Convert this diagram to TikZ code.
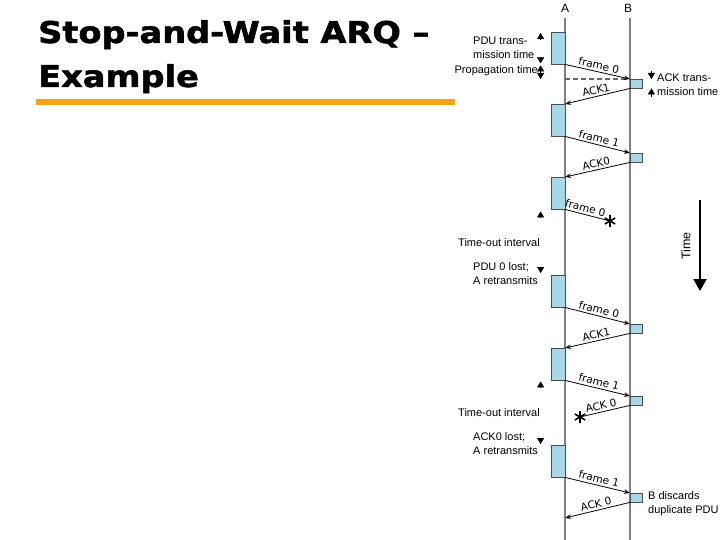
\documentclass[tikz,border=0pt]{standalone}
\usepackage{fontspec}
\setmainfont{Liberation Sans}
\newfontfamily\msgfont{DejaVu Sans}
\newfontfamily\titlefont[FakeBold=1.6]{DejaVu Sans}
\usepackage{graphicx}
\usetikzlibrary{calc, positioning, arrows.meta}
\definecolor{boxblue}{RGB}{166,216,232}
\definecolor{linegray}{RGB}{128,128,128}
\definecolor{barorange}{RGB}{247,162,27}

\begin{document}
\begin{tikzpicture}[x=1pt, y=-1pt,
  abox/.style={draw=black!70, fill=boxblue, minimum width=14pt, minimum height=32pt,
               inner sep=0pt, anchor=north east},
  bbox/.style={draw=black!70, fill=boxblue, minimum width=12pt, minimum height=9pt,
               inner sep=0pt, anchor=north west},
  lifeline/.style={draw=linegray, line width=1.6pt},
  msg/.style={draw, line width=0.8pt, -{Stealth[length=6pt,width=4.5pt]}},
  msglost/.style={draw, line width=0.8pt},
  lbl/.style={font=\msgfont\fontsize{10.5}{12}\selectfont, sloped, above, inner sep=2pt},
  note/.style={font=\fontsize{11}{14}\selectfont, align=left, inner sep=1pt, anchor=west},
  dim/.style={-{Triangle[length=6pt,width=7pt]}},
  titel/.style={font=\titlefont\bfseries\fontsize{30}{44}\selectfont, anchor=base west, inner sep=0pt},
  lost/.pic={\draw[line width=1.6pt] (90:6) -- (270:6) (30:6) -- (210:6) (150:6) -- (330:6);}
]
\useasboundingbox (0,0) rectangle (720,540);

\node[titel] (title1) at (38,43) {\scalebox{1.12}[1]{Stop-and-Wait ARQ –}};
\node[titel] (title2) at (38,87) {\scalebox{1.12}[1]{Example}};
\fill[barorange] (36,99) rectangle (455,105);

\node[font=\fontsize{12}{14}\selectfont, inner sep=1pt] (labA) at (565,8) {A};
\node[font=\fontsize{12}{14}\selectfont, inner sep=1pt] (labB) at (628,8) {B};
\coordinate (endA) at (565,540);
\coordinate (endB) at (630,540);
\draw[lifeline] (labA.south |- 0,18) -- (endA);
\draw[lifeline] (endB |- 0,18) -- (endB);

\node[abox] (a1) at (565,32) {};
\node[abox] (a2) at (565,104) {};
\node[abox] (a3) at (565,177) {};
\node[abox] (a4) at (565,275) {};
\node[abox] (a5) at (565,348) {};
\node[abox] (a6) at (565,445) {};

\node[bbox] (b1) at (630,79) {};
\node[bbox] (b2) at (630,153) {};
\node[bbox] (b3) at (630,324) {};
\node[bbox] (b4) at (630,396) {};
\node[bbox] (b5) at (630,493) {};

\coordinate (lost1) at (610,221);
\coordinate (lost2) at (580,417);
\coordinate (ackend) at (565,518);

\draw[draw=black!60, line width=1.2pt, dash pattern=on 5pt off 3pt] (b1.north west -| a1.east) -- (b1.north west);

\draw[msg] (a1.south east) -- node[lbl] {frame 0} (b1.north west);
\draw[msg] (b1.south west) -- node[lbl] {ACK1} (a2.north east);
\draw[msg] (a2.south east) -- node[lbl] {frame 1} (b2.north west);
\draw[msg] (b2.south west) -- node[lbl] {ACK0} (a3.north east);
\draw[msglost] (a3.south east) -- node[lbl, pos=0.42] {frame 0} (lost1);
\pic at (lost1) {lost};
\draw[msg] (a4.south east) -- node[lbl] {frame 0} (b3.north west);
\draw[msg] (b3.south west) -- node[lbl] {ACK1} (a5.north east);
\draw[msg] (a5.south east) -- node[lbl] {frame 1} (b4.north west);
\draw[msglost] (b4.south west) -- node[lbl, pos=0.55] {ACK 0} (lost2);
\pic at (lost2) {lost};
\draw[msg] (a6.south east) -- node[lbl] {frame 1} (b5.north west);
\draw[msg] (b5.south west) -- node[lbl] {ACK 0} (ackend);

\draw[dim] ($(a1.north west)+(-10,7)$) -- ($(a1.north west)+(-10,1)$);
\draw[dim] ($(a1.south west)+(-10,-7)$) -- ($(a1.south west)+(-10,-1)$);
\draw[dim] ($(a1.south west)+(-10,8)$) -- ($(a1.south west)+(-10,1)$);
\draw[dim] ($(a1.south west |- b1.north)+(-10,-8)$) -- ($(a1.south west |- b1.north)+(-10,0)$);
\draw[dim] ($(b1.north east)+(9,-8)$) -- ($(b1.north east)+(9,0)$);
\draw[dim] ($(b1.south east)+(9,9)$) -- ($(b1.south east)+(9,0)$);
\draw[dim] ($(a3.south west)+(-10,8)$) -- ($(a3.south west)+(-10,2)$);
\draw[dim] ($(a4.north west)+(-10,-8)$) -- ($(a4.north west)+(-10,-2)$);
\draw[dim] ($(a5.south west)+(-10,7)$) -- ($(a5.south west)+(-10,1)$);
\draw[dim] ($(a6.north west)+(-10,-7)$) -- ($(a6.north west)+(-10,-1)$);

\node[note] (pdutx) at (472,48) {PDU trans-\\mission time};
\node[note, anchor=east] (prop) at (539,71) {Propagation time};
\node[note] (acktx) at (656,85) {ACK trans-\\mission time};
\node[note] (to1) at (457,243) {Time-out interval};
\node[note] (lost1txt) at (472,274) {PDU 0 lost;\\A retransmits};
\node[note] (to2) at (457,413) {Time-out interval};
\node[note] (lost2txt) at (472,444) {ACK0 lost;\\A retransmits};
\node[note] (dup) at (647,504) {B discards\\duplicate PDU};

\coordinate (tstart) at (700,200);
\coordinate (tend) at (700,291);
\draw[line width=2pt, -{Triangle[length=12pt,width=13pt]}] (tstart) -- (tend);
\node[note, anchor=center, rotate=90, font=\fontsize{12.5}{14}\selectfont] (timelbl) at (686,246) {Time};
\end{tikzpicture}
\end{document}
